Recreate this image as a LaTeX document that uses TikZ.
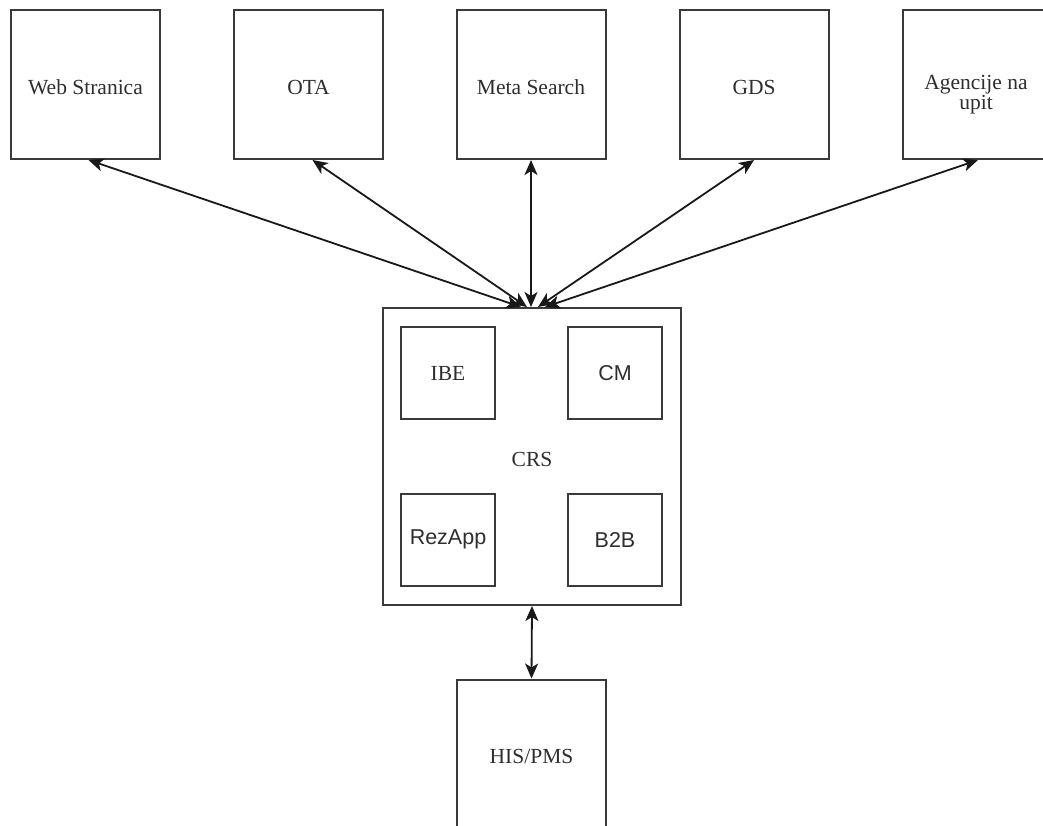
\documentclass[tikz,border=0pt]{standalone}
\usepackage{fontspec}
\setmainfont{Liberation Serif}
\newfontfamily\sansf{Liberation Sans}
\usetikzlibrary{arrows.meta}
\definecolor{boxline}{HTML}{3A3A3A}
\definecolor{txt}{HTML}{2E2E2E}
\tikzset{
  outer/.style={draw=boxline, line width=2pt, minimum width=149pt, minimum height=149pt, inner sep=0pt, text=txt, align=center, font=\fontsize{21.5}{19}\selectfont},
  inner/.style={draw=boxline, line width=2pt, minimum width=94pt, minimum height=92pt, inner sep=0pt, text=txt, font=\fontsize{21.5}{25}\selectfont},
  lbl/.style={text=txt, font=\fontsize{21.5}{25}\selectfont, inner sep=0pt},
  link/.style={draw=black!90, line width=1.8pt, {Stealth[length=15pt,width=13pt,inset=4pt]}-{Stealth[length=15pt,width=13pt,inset=4pt]}}
}
\begin{document}
\begin{tikzpicture}[x=1pt,y=-1pt]
\useasboundingbox (0,0) rectangle (1043,825);
\clip (0,0) rectangle (1043,825);
\fill[white] (0,0) rectangle (1043,825);
% top boxes
\node[outer] (web) at (85.5,84.5) {};
\node[lbl] at (85.5,87) {Web Stranica};
\node[outer] (ota) at (308.5,84.5) {};
\node[lbl] at (308.5,87) {OTA};
\node[outer] (meta) at (531,84.5) {};
\node[lbl] at (531,87) {Meta Search};
\node[outer] (gds) at (754,84.5) {};
\node[lbl] at (754,87) {GDS};
\node[outer] (age) at (977,84.5) {};
\node[lbl, align=center, font=\fontsize{21.5}{20}\selectfont] at (976,95) {Agencije na\\upit};
% CRS
\node[draw=boxline, line width=2pt, minimum width=298pt, minimum height=297pt, inner sep=0pt] (crs) at (532,456.5) {};
\node[lbl] at (532,459) {CRS};
\node[inner] (ibe) at (448,373) {IBE};
\node[inner, font=\sansf\fontsize{21.5}{25}\selectfont] (cm) at (615,373) {CM};
\node[inner, font=\sansf\fontsize{21.5}{25}\selectfont] (rez) at (448,539.5) {RezApp};
\node[inner, font=\sansf\fontsize{21.5}{25}\selectfont] (b2b) at (615,539.5) {B2B};
% HIS/PMS
\node[outer] (his) at (531.5,754) {};
\node[lbl] at (531.5,756) {HIS/PMS};
% connection points
\coordinate (c1) at ([xshift=-11pt]crs.north);
\coordinate (c2) at ([xshift=-5pt]crs.north);
\coordinate (c3) at ([xshift=-1pt]crs.north);
\coordinate (c4) at ([xshift=6pt]crs.north);
\coordinate (c5) at ([xshift=13pt]crs.north);
\coordinate (w1) at ([xshift=3pt]web.south);
\coordinate (o1) at ([xshift=4pt]ota.south);
\coordinate (a1) at ([xshift=1pt]age.south);
\draw[link] (w1) -- (c1);
\draw[link] (o1) -- (c2);
\draw[link] (meta.south) -- (c3);
\draw[link] (gds.south) -- (c4);
\draw[link] (a1) -- (c5);
\draw[link] (crs.south) -- (his.north);
\end{tikzpicture}
\end{document}
